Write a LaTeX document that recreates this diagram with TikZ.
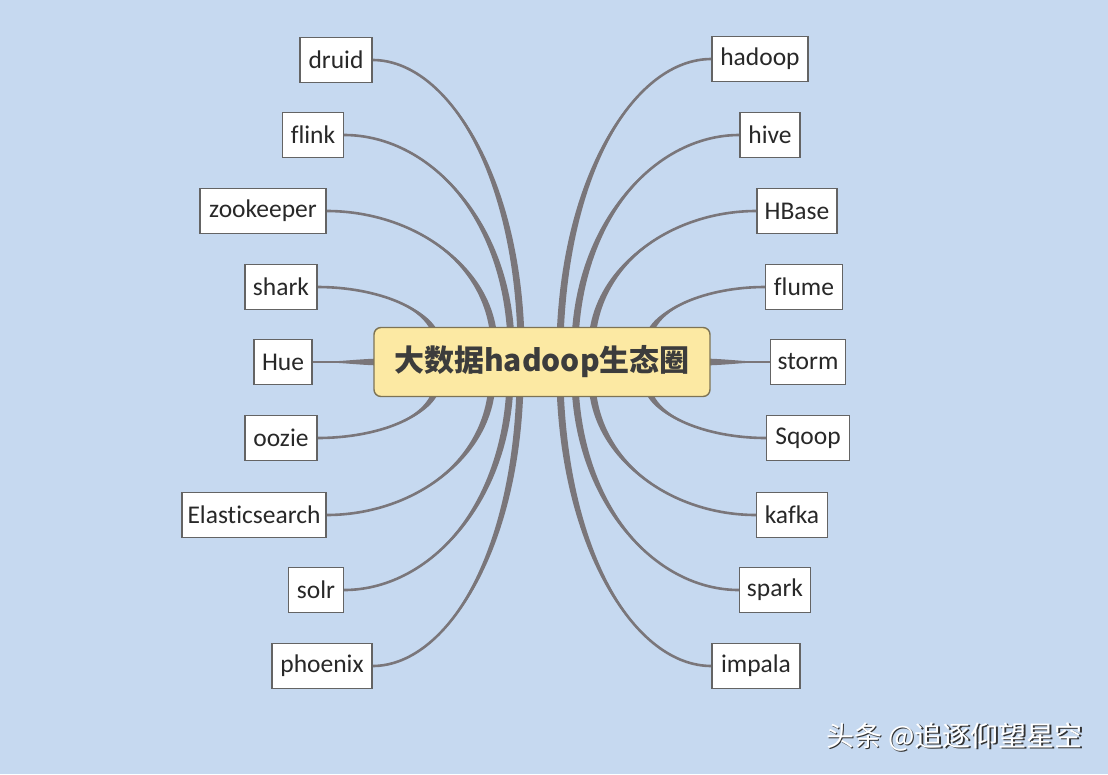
\documentclass[tikz,border=0pt]{standalone}
\usepackage{fontspec}
\setmainfont{Carlito}[Ligatures={NoCommon}]
\newfontfamily\cjk{Noto Sans CJK SC}
\usetikzlibrary{calc}
\definecolor{bgc}{RGB}{198,217,240}
\definecolor{connc}{RGB}{122,118,122}
\definecolor{leafb}{RGB}{100,100,100}
\definecolor{leaft}{RGB}{40,40,40}
\definecolor{hubf}{RGB}{252,233,163}
\definecolor{hubb}{RGB}{125,115,85}
\definecolor{hubt}{RGB}{60,60,60}
\definecolor{shadowc}{RGB}{50,50,50}
\pgfdeclarelayer{bgl}
\pgfdeclarelayer{conl}
\pgfsetlayers{bgl,conl,main}
\newcommand{\tpr}[5]{%
  \fill[connc] (#1) .. controls (#2) and ($(#3)+(#5)$) .. ($(#4)+(#5)$) -- ($(#4)-(#5)$) .. controls ($(#3)-(#5)$) and (#2) .. (#1) -- cycle;
  \draw[connc, line width=2.6pt] (#1) .. controls (#2) and (#3) .. (#4);}
\tikzset{
  leaf/.style={draw=leafb, fill=white, line width=1.2pt, minimum height=45pt, inner xsep=3pt, inner ysep=0pt,
    text=leaft, font=\fontsize{25.5}{30}\selectfont},
  hub/.style={draw=hubb, fill=hubf, line width=1.4pt, rounded corners=7pt, minimum width=336pt, minimum height=69pt,
    text=hubt, font=\cjk\bfseries\fontsize{30}{36}\selectfont},
  wmark/.style={font=\cjk\fontsize{28}{32}\selectfont, inner sep=0pt}
}
\begin{document}
\begin{tikzpicture}[x=1pt,y=-1pt]
\begin{pgfonlayer}{bgl}
\path[use as bounding box, fill=bgc] (0,0) rectangle (1108,774);
\end{pgfonlayer}
% left leaves
\node[leaf, minimum width=72pt]  (druid) at (336,60) {druid};
\node[leaf, minimum width=61pt]  (flink) at (313,135) {flink};
\node[leaf, minimum width=126pt] (zoo)   at (263,211) {zookeeper};
\node[leaf, minimum width=72pt]  (shark) at (281,287) {shark};
\node[leaf, minimum width=58pt]  (hue)   at (283,362) {Hue};
\node[leaf, minimum width=72pt]  (oozie) at (281,438) {oozie};
\node[leaf, minimum width=144pt] (es)    at (254,515) {Elasticsearch};
\node[leaf, minimum width=55pt]  (solr)  at (316,590) {solr};
\node[leaf, minimum width=100pt] (phx)   at (322,666) {phoenix};
% right leaves
\node[leaf, minimum width=96pt]  (hadoop) at (760,59) {hadoop};
\node[leaf, minimum width=60pt]  (hive)   at (770,135) {hive};
\node[leaf, minimum width=80pt]  (hbase)  at (797,211) {HBase};
\node[leaf, minimum width=77pt]  (flume)  at (804,287) {flume};
\node[leaf, minimum width=75pt]  (storm)  at (808,362) {storm};
\node[leaf, minimum width=83pt]  (sqoop)  at (808,438) {Sqoop};
\node[leaf, minimum width=71pt]  (kafka)  at (792,515) {kafka};
\node[leaf, minimum width=71pt]  (spark)  at (775,590) {spark};
\node[leaf, minimum width=88pt]  (impala) at (756,666) {impala};
% hub
\node[hub] (hub) at (542,362) {大数据hadoop生态圈};
% end points on hub
\coordinate (eDruid) at (521,340);
\coordinate (eFlink) at (511,340);
\coordinate (eZoo) at (494,340);
\coordinate (eShark) at (437,340);
\coordinate (eHue) at (385,362);
\coordinate (eOozie) at (437,385);
\coordinate (eEs) at (492,385);
\coordinate (eSolr) at (510,385);
\coordinate (ePhx) at (520,385);
\coordinate (eHadoop) at (560,340);
\coordinate (eHive) at (575,340);
\coordinate (eHbase) at (592,340);
\coordinate (eFlume) at (648,340);
\coordinate (eStorm) at (700,362);
\coordinate (eSqoop) at (647,385);
\coordinate (eKafka) at (592,385);
\coordinate (eSpark) at (575,385);
\coordinate (eImpala) at (560,385);
\begin{pgfonlayer}{conl}
\tpr{druid.east}{446,60}{517,172}{eDruid}{3.5,0}
\tpr{flink.east}{428,135}{506,217}{eFlink}{3.5,0}
\tpr{zoo.east}{410,211}{489,262}{eZoo}{3.5,0}
\tpr{shark.east}{377,287}{433,309}{eShark}{3.5,0}
\tpr{hue.east}{340,362}{360,362}{eHue}{0,3.5}
\tpr{oozie.east}{377,438}{433,417}{eOozie}{3.5,0}
\tpr{es.east}{409,515}{487,463}{eEs}{3.5,0}
\tpr{solr.east}{427,590}{505,508}{eSolr}{3.5,0}
\tpr{phx.east}{446,666}{516,553}{ePhx}{3.5,0}
\tpr{hadoop.west}{636,59}{565,171}{eHadoop}{3.5,0}
\tpr{hive.west}{657,135}{580,217}{eHive}{3.5,0}
\tpr{hbase.west}{674,211}{597,263}{eHbase}{3.5,0}
\tpr{flume.west}{707,287}{652,309}{eFlume}{3.5,0}
\tpr{storm.west}{745,362}{725,362}{eStorm}{0,3.5}
\tpr{sqoop.west}{707,438}{651,416}{eSqoop}{3.5,0}
\tpr{kafka.west}{674,515}{597,463}{eKafka}{3.5,0}
\tpr{spark.west}{657,590}{580,508}{eSpark}{3.5,0}
\tpr{impala.west}{636,666}{565,553}{eImpala}{3.5,0}
\end{pgfonlayer}
% watermark
\node[wmark, text=shadowc, anchor=west] (wms) at (827.5,738.5) {头条 @追逐仰望星空};
\node[wmark, text=white, anchor=west] (wm) at (826,737) {头条 @追逐仰望星空};
\end{tikzpicture}
\end{document}
